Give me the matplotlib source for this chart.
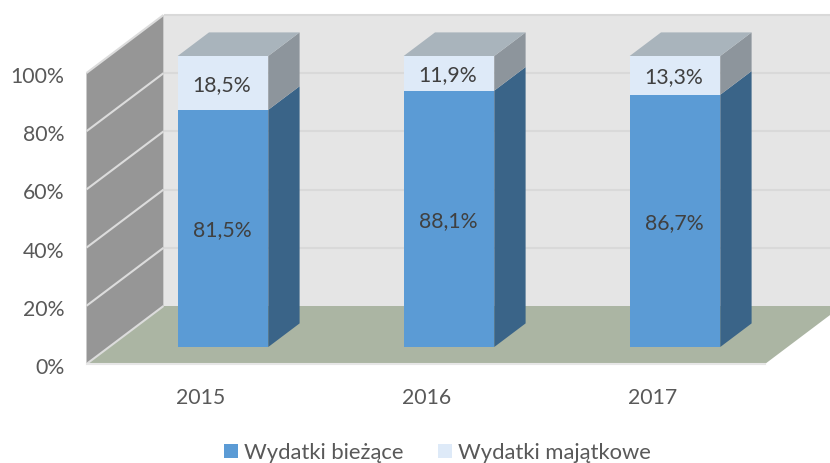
import matplotlib
matplotlib.use("Agg")
import matplotlib.pyplot as plt
from matplotlib.patches import Polygon, Patch
from matplotlib.transforms import ScaledTranslation

years = ["2015", "2016", "2017"]
biezace = [81.5, 88.1, 86.7]
majatkowe = [18.5, 11.9, 13.3]
labels_biezace = ["81,5%", "88,1%", "86,7%"]
labels_majatkowe = ["18,5%", "11,9%", "13,3%"]
yticks = [0, 20, 40, 60, 80, 100]
ytick_labels = ["0%", "20%", "40%", "60%", "80%", "100%"]
series_names = ["Wydatki bieżące", "Wydatki majątkowe"]

plt.rcParams["font.family"] = ["Lato", "DejaVu Sans"]
W, H = 830, 464
fig = plt.figure(figsize=(W / 100, H / 100), dpi=100)
L, R, T, B = 86.5, 765, 74, 365
ax = fig.add_axes([L / W, 1 - B / H, (R - L) / W, (B - T) / H])
PX_X = 226.0
PX_Y = (B - T) / 100
ORIGIN = 200.4
ax.set_xlim((L - ORIGIN) / PX_X, (R - ORIGIN) / PX_X)
ax.set_ylim(0, 100)

DX, DY = 77.0, 58.0   # pixel shift from front plane to back plane
FS = 15.3


def P(x, y, z):
    """Oblique projection of (category, percent, depth 0-1) to data coords."""
    return (x + z * DX / PX_X, y + z * DY / PX_Y)


def face(points, color, zorder, ec="none", lw=0):
    ax.add_patch(Polygon([P(*p) for p in points], closed=True, fc=color, ec=ec,
                         lw=lw, zorder=zorder, clip_on=False))


xl = ax.get_xlim()[0]
xr = ax.get_xlim()[1]
GRID = "#d9d9d9"
WALL_BACK = "#e5e5e5"
WALL_LEFT = "#969696"
FLOOR = "#abb5a3"

# back wall, left wall, floor
face([(xl, 0, 1), (xr, 0, 1), (xr, 100, 1), (xl, 100, 1)], WALL_BACK, 1)
face([(xl, 0, 0), (xl, 0, 1), (xl, 100, 1), (xl, 100, 0)], WALL_LEFT, 1)
face([(xl, 0, 0), (xr, 0, 0), (xr, 0, 1), (xl, 0, 1)], FLOOR, 2)

for t in yticks:
    x0, y0 = P(xl, t, 0)
    x1, y1 = P(xl, t, 1)
    x2, y2 = P(xr, t, 1)
    ax.plot([x0, x1], [y0, y1], color="#dcdcdc", lw=1.5, zorder=3, clip_on=False,
            solid_capstyle="butt")
    if t > 0:
        ax.plot([x1, x2], [y1, y2], color=GRID, lw=1.5, zorder=1.5, clip_on=False,
                solid_capstyle="butt")
x0, y0 = P(xl, 0, 0)
x1, y1 = P(xr, 0, 0)
ax.plot([x0, x1], [y0, y1], color="#e6e6e6", lw=1.5, zorder=3, clip_on=False)

# bars
HALF = 45.3 / PX_X
Z0, Z1 = 0.293, 0.70
BLUE, BLUE_SIDE = "#5b9bd5", "#3a6488"
LIGHT, LIGHT_SIDE, LIGHT_TOP = "#deeaf8", "#8d959c", "#a9b4bc"
label_shift = ax.transData + ScaledTranslation(-1.0 / 100, -1.0 / 100, fig.dpi_scale_trans)

for i, (a, b) in enumerate(zip(biezace, majatkowe)):
    x0, x1 = i - HALF, i + HALF
    top = a + b
    # side faces
    face([(x1, 0, Z0), (x1, 0, Z1), (x1, a, Z1), (x1, a, Z0)], BLUE_SIDE, 4)
    face([(x1, a, Z0), (x1, a, Z1), (x1, top, Z1), (x1, top, Z0)], LIGHT_SIDE, 4)
    # top
    face([(x0, top, Z0), (x1, top, Z0), (x1, top, Z1), (x0, top, Z1)], LIGHT_TOP, 4)
    # fronts
    face([(x0, 0, Z0), (x1, 0, Z0), (x1, a, Z0), (x0, a, Z0)], BLUE, 5)
    face([(x0, a, Z0), (x1, a, Z0), (x1, top, Z0), (x0, top, Z0)], LIGHT, 5)
    # labels
    cx, cy = P(i, a / 2, Z0)
    ax.text(cx, cy, labels_biezace[i], ha="center", va="center", fontsize=FS,
            color="#404040", zorder=6, transform=label_shift)
    cx, cy = P(i, a + b / 2, Z0)
    ax.text(cx, cy, labels_majatkowe[i], ha="center", va="center", fontsize=FS,
            color="#404040", zorder=6, transform=label_shift)

# axes
ax.patch.set_visible(False)
for s in ax.spines.values():
    s.set_visible(False)
ax.set_yticks(yticks, ytick_labels)
ax.set_xticks(range(len(years)), years)
ax.tick_params(axis="both", length=0, labelsize=FS, labelcolor="#595959")
ax.tick_params(axis="y", pad=16)
ax.tick_params(axis="x", pad=16.7)
down = ScaledTranslation(0, -1.0 / 100, fig.dpi_scale_trans)
for lbl in ax.get_yticklabels():
    lbl.set_transform(lbl.get_transform() + down)

handles = [Patch(fc=BLUE, ec="none"), Patch(fc=LIGHT, ec="none")]
fig.legend(handles, series_names, loc="center", bbox_to_anchor=(437.5 / W, 1 - 453.5 / H),
           ncol=2, frameon=False, fontsize=15.8, labelcolor="#595959",
           handlelength=0.64, handleheight=0.64, handletextpad=0.27, columnspacing=1.6,
           borderpad=0)

fig.savefig("out.png", dpi=100, facecolor="white")
